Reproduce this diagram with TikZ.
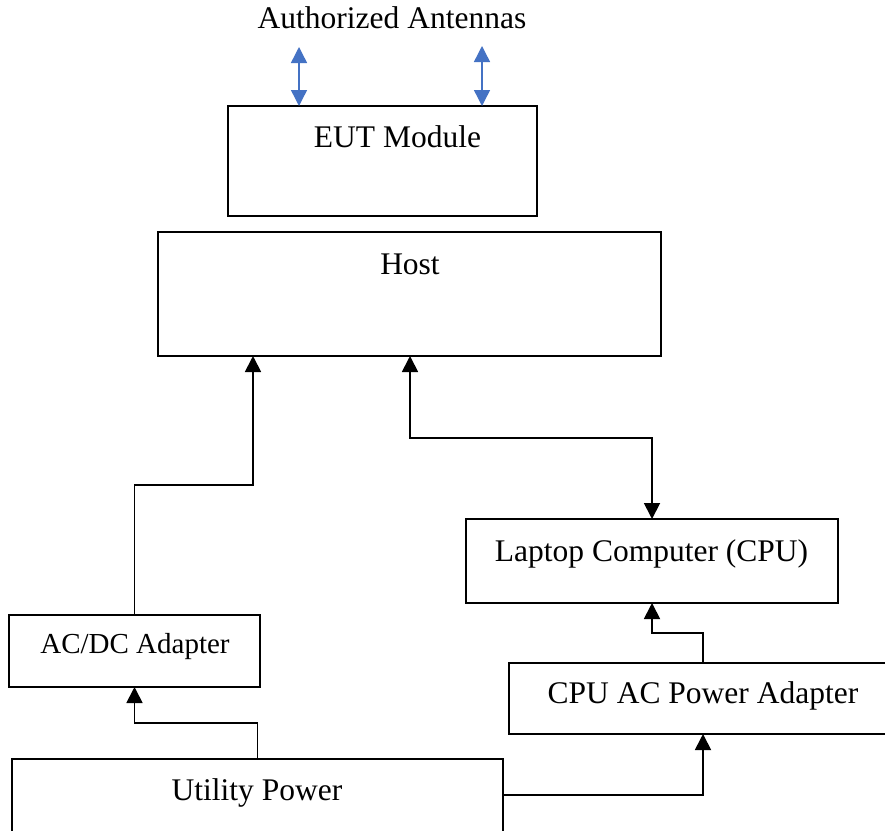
\documentclass[tikz,border=0pt]{standalone}
\usepackage{fontspec}
\setmainfont{Liberation Serif}
\usetikzlibrary{arrows.meta,calc}
\definecolor{antblue}{HTML}{4472C4}
\tikzset{
  box/.style={draw=black, line width=1.8pt, inner sep=0pt, outer sep=0pt, rectangle},
  lbl/.style={anchor=base, inner sep=0pt, font=\fontsize{31.5}{36}\selectfont},
  tip/.style={},
  arr/.style={line width=1.8pt, -{Triangle[length=16pt,width=16pt]}},
  darr/.style={line width=1.8pt, {Triangle[length=16pt,width=16pt]}-{Triangle[length=16pt,width=16pt]}},
  barr/.style={draw=antblue, line width=1.4pt, {Triangle[length=16pt,width=16pt,fill=antblue]}-{Triangle[length=16pt,width=16pt,fill=antblue]}},
}
\begin{document}
\begin{tikzpicture}[x=1pt,y=-1pt]
\useasboundingbox (0,0) rectangle (885,830);
\fill[white] (0,0) rectangle (885,830);
\clip (0,0) rectangle (885,830);
% boxes
\node[box, minimum width=309pt, minimum height=110pt] (eut) at (382.5,161) {};
\node[box, minimum width=503pt, minimum height=124pt] (host) at (409.5,294) {};
\node[box, minimum width=372pt, minimum height=84pt] (laptop) at (652,561) {};
\node[box, minimum width=251pt, minimum height=72pt] (acdc) at (134.5,651) {};
\node[box, minimum width=391pt, minimum height=71pt] (cpuac) at (704.5,698.5) {};
\node[box, minimum width=491pt, minimum height=91pt] (utility) at (257.5,804.5) {};
% labels
\node[lbl] (title) at (392,28) {Authorized Antennas};
\node[lbl] (eutl) at (397.5,147) {EUT Module};
\node[lbl] (hostl) at (410,274) {Host};
\node[lbl] (laptopl) at (651.5,561) {Laptop Computer (CPU)};
\node[lbl, font=\fontsize{29}{34}\selectfont] (acdcl) at (135,653) {AC/DC Adapter};
\node[lbl] (cpuacl) at (703,703) {CPU AC Power Adapter};
\node[lbl] (utilityl) at (257,800) {Utility Power};
% junction coordinates
\coordinate (a1) at (299,47);
\coordinate (a2) at (482,46);
\coordinate (j1) at (253,485);
\coordinate (j2) at (410,438);
\coordinate (j3) at (703,633);
\coordinate (j4) at (257.5,723);
\coordinate (j5) at (703,795);
% antenna arrows
\draw[barr] (a1) -- (a1 |- eut.north);
\draw[barr] (a2) -- (a2 |- eut.north);
% connectors
\draw[arr] (acdc.north) |- (j1) -- (j1 |- host.south);
\draw[darr] (j2 |- host.south) -- (j2) -| (laptop.north);
\draw[arr] (j3 |- cpuac.north) -- (j3) -| (laptop.south);
\draw[arr] (utility.north) -- (j4) -| (acdc.south);
\draw[arr] (utility.east |- j5) -- (j5) -- (j5 |- cpuac.south);
\end{tikzpicture}
\end{document}
